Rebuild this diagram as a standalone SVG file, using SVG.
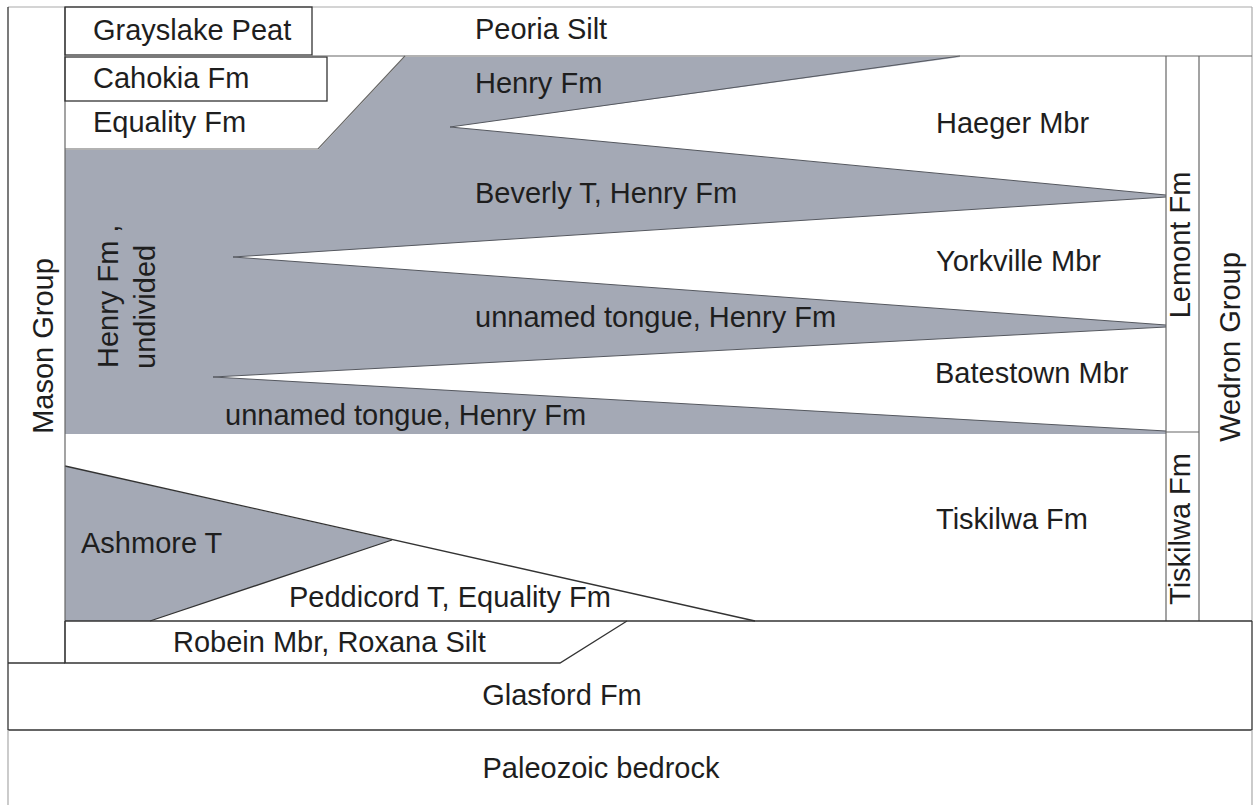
<svg xmlns="http://www.w3.org/2000/svg" width="1253" height="805" viewBox="0 0 1253 805">
<style>
text{font-family:"Liberation Sans",Arial,sans-serif;font-size:29px;fill:#1e1e1e}
.dk{fill:none;stroke:#333;stroke-width:1.3}
.md{fill:none;stroke:#666;stroke-width:1.2}
.lt{fill:none;stroke:#aaa;stroke-width:1.2}
.gy{fill:#a4a9b5}
.wh{fill:#fff}
.edge{fill:none;stroke:#55585f;stroke-width:1}
</style>
<rect width="1253" height="805" fill="#fff"/>

<g id="henry-undivided">
<polygon class="gy" points="65,150 318,150 405,57 1166,57 1166,434 65,434"/>
<text transform="translate(118,368) rotate(-90)">Henry Fm ,</text>
<text transform="translate(155,369) rotate(-90)">undivided</text>
</g>
<g id="henry-fm"><text x="475" y="93">Henry Fm</text></g>
<g id="haeger-mbr">
<polygon class="wh" points="450,127 960,57 1166,57 1166,195"/>
<path class="edge" d="M960,56 L450,127 L1166,195"/>
<text x="936" y="133">Haeger Mbr</text>
</g>
<g id="beverly-t"><text x="475" y="203">Beverly T, Henry Fm</text></g>
<g id="yorkville-mbr">
<polygon class="wh" points="233,257 1166,197 1166,325"/>
<path class="edge" d="M1166,197 L233,257 L1166,325"/>
<text x="936" y="271">Yorkville Mbr</text>
</g>
<g id="unnamed-tongue-1"><text x="475" y="327">unnamed tongue, Henry Fm</text></g>
<g id="batestown-mbr">
<polygon class="wh" points="213,377 1166,327 1166,431"/>
<path class="edge" d="M1166,327 L213,377 L1166,431"/>
<text x="935" y="383">Batestown Mbr</text>
</g>
<g id="unnamed-tongue-2"><text x="225" y="425">unnamed tongue, Henry Fm</text></g>

<g id="ashmore-t">
<polygon class="gy" points="65,466 392,540 150,621 65,621"/>
<path class="dk" d="M150,621 L392,540"/>
<text x="81" y="553">Ashmore T</text>
</g>
<g id="peddicord-t">
<path class="dk" d="M65,466 L755,621"/>
<text x="289" y="607">Peddicord T, Equality Fm</text>
</g>
<g id="tiskilwa-fm"><text x="936" y="529">Tiskilwa Fm</text></g>

<g id="frame">
<path class="lt" d="M8,7 H1252"/>
<path class="lt" d="M1252,7 V621"/>
<path class="dk" d="M8,7 V730"/>
<path class="md" d="M65,7 V663"/>
<path class="dk" d="M8,663 H65"/>
</g>

<g id="grayslake-peat">
<rect class="dk" x="65" y="7" width="247" height="48" fill="#fff"/>
<text x="93" y="40">Grayslake Peat</text>
</g>
<g id="cahokia-fm">
<rect class="dk" x="65" y="57" width="262" height="44" fill="#fff"/>
<text x="93" y="88">Cahokia Fm</text>
</g>
<g id="equality-fm">
<path class="md" d="M65,149 H318 L405,56"/>
<text x="93" y="132">Equality Fm</text>
</g>
<g id="peoria-silt">
<path class="md" d="M312,56 H1252"/>
<text x="475" y="39">Peoria Silt</text>
</g>

<g id="lemont-fm">
<path class="md" d="M1166,56 V621"/>
<path class="md" d="M1166,432 H1199"/>
<text transform="translate(1190,245) rotate(-90)" text-anchor="middle">Lemont Fm</text>
</g>
<g id="tiskilwa-col">
<text transform="translate(1190,529) rotate(-90)" text-anchor="middle">Tiskilwa Fm</text>
</g>
<g id="wedron-group">
<path class="md" d="M1199,56 V621"/>
<text transform="translate(1240,347) rotate(-90)" text-anchor="middle">Wedron Group</text>
</g>
<g id="mason-group">
<text transform="translate(53,346) rotate(-90)" text-anchor="middle">Mason Group</text>
</g>

<g id="robein-mbr">
<path class="dk" d="M65,621 H1252"/>
<path class="dk" d="M65,621 V663 H560 L627,621"/>
<text x="173" y="652">Robein Mbr, Roxana Silt</text>
</g>
<g id="glasford-fm">
<path class="dk" d="M8,730 H1252 M1252,621 V730"/>
<text x="562" y="705" text-anchor="middle">Glasford Fm</text>
</g>
<g id="paleozoic-bedrock">
<path class="lt" d="M8,730 V805 M1252,730 V805"/>
<text x="601" y="778" text-anchor="middle">Paleozoic bedrock</text>
</g>
</svg>
